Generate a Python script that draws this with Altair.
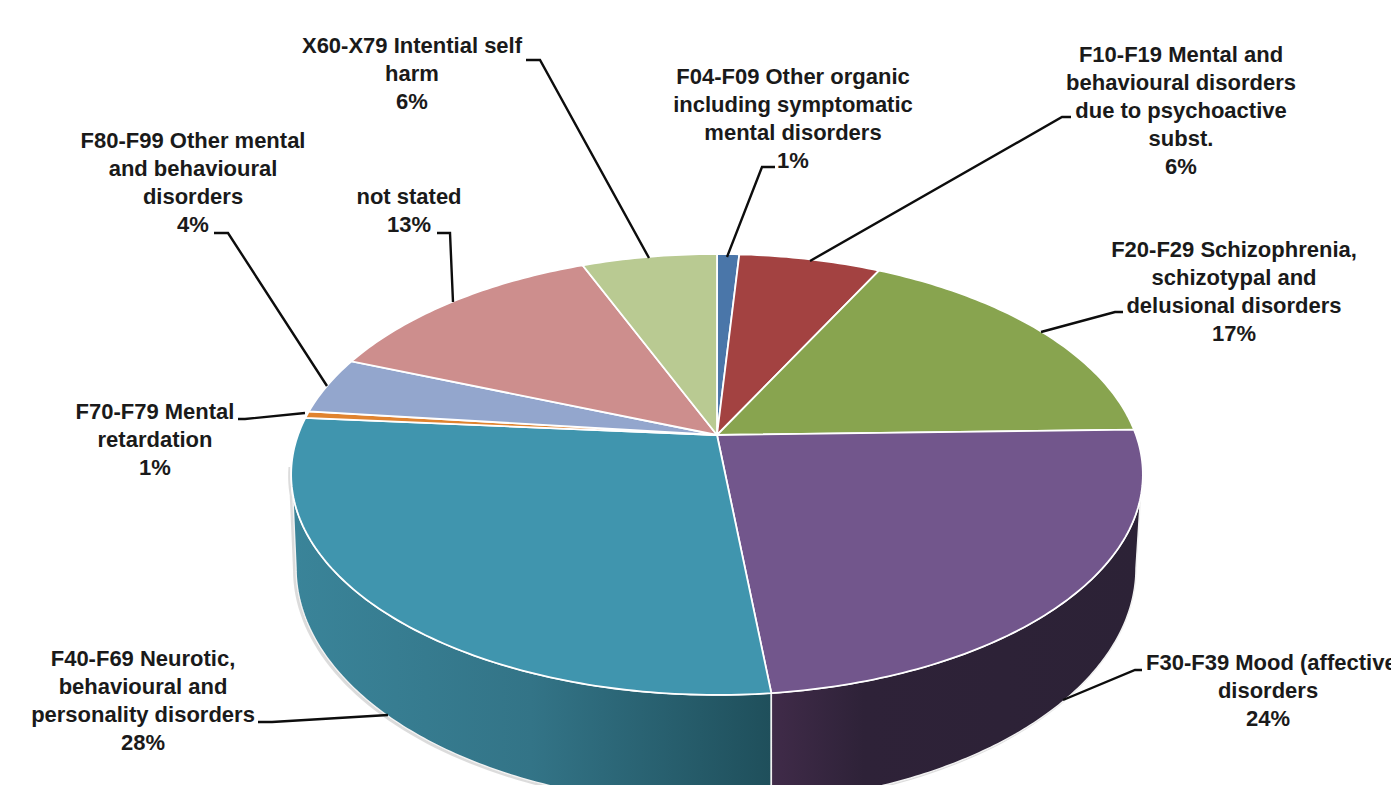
import numpy as np
import pandas as pd
import altair as alt

# ---- values (clockwise from 12 o'clock)
names = ["F04-F09", "F10-F19", "F20-F29", "F30-F39", "F40-F69", "F70-F79", "F80-F99", "not stated", "X60-X79"]
values = [1.0, 6.4, 17.2, 23.7, 28.0, 0.5, 4.2, 12.9, 6.1]
colors = ["#4a76a9", "#a34241", "#88a44f", "#72568c", "#4095ae", "#e0832f", "#93a6cd", "#cd8e8d", "#b9ca92"]

label_lines = [
    (["X60-X79 Intential self", "harm", "6%"], 412, 46),
    (["F04-F09 Other organic", "including symptomatic", "mental disorders", "1%"], 793, 77),
    (["F10-F19 Mental and", "behavioural disorders", "due to psychoactive", "subst.", "6%"], 1181, 55),
    (["F20-F29 Schizophrenia,", "schizotypal and", "delusional disorders", "17%"], 1234, 250),
    (["disorders", "24%"], 1268, 691),
    (["F40-F69 Neurotic,", "behavioural and", "personality disorders", "28%"], 143, 659),
    (["F70-F79 Mental", "retardation", "1%"], 155, 412),
    (["F80-F99 Other mental", "and behavioural", "disorders", "4%"], 193, 141),
    (["not stated", "13%"], 409, 197),
    (["F30-F39 Mood (affective)"], 1275, 663),
]
leaders = [
    [(649, 258), (540, 60), (526, 60)],
    [(727, 257), (762, 167), (775, 167)],
    [(810, 261), (1062, 117), (1071, 117)],
    [(1041, 332), (1115, 312), (1123, 312)],
    [(1063, 700), (1135, 670), (1142, 670)],
    [(388, 715), (272, 722), (258, 722)],
    [(305, 413), (245, 419), (238, 419)],
    [(327, 386), (228, 233), (214, 233)],
    [(453, 302), (450, 233), (437, 233)],
]

# ---- pie geometry (perspective disc)
CX, CY, S, R, K = 717.0, 435.0, 213.4, 419.0, 0.179
BCX, BCY, BRX, BRY = 716.0, 568.0, 420.0, 237.0
W, H = 1383, 777
xs = alt.Scale(domain=[8, 8 + W], nice=False, zero=False)
ys = alt.Scale(domain=[8 + H, 8], nice=False, zero=False)


def rim(t):
    x, d = np.sin(t), -np.cos(t)
    w = 1 - K * d
    return CX + R * x / w, CY + S * d / w


def poly(px, py, **mark):
    px, py = list(px) + [px[0]], list(py) + [py[0]]
    df = pd.DataFrame({"x": px, "y": py, "i": range(len(px))})
    return alt.Chart(df).mark_line(clip=True, **mark).encode(
        x=alt.X("x:Q", scale=xs, axis=None),
        y=alt.Y("y:Q", scale=ys, axis=None),
        order="i:Q",
    )


fr = np.cumsum([0] + values) / sum(values)
layers = []


def wall(t0, t1):
    ts = np.linspace(t0, t1, 120)
    rx, ry = rim(ts)
    ps0 = np.arccos(np.clip((rx[0] - BCX) / BRX, -1, 1))
    ps1 = np.arccos(np.clip((rx[-1] - BCX) / BRX, -1, 1))
    ps = np.linspace(ps1, ps0, 120)
    ex = BCX + BRX * np.cos(ps)
    ey = BCY + BRY * np.sin(ps)
    return list(rx) + list(ex), list(ry) + list(ey)


split = 2 * np.pi * fr[4]
tl = np.deg2rad(262.0)   # left end of the visible wall on the rim
tr = np.deg2rad(98.0)    # right end of the visible wall on the rim

# soft shadow under the wall
px, py = wall(tr, tl)
layers.append(poly([p - 2 for p in px], [p + 1.5 for p in py], fill="#999999", stroke="#aaaaaa", strokeWidth=2, opacity=0.4))

teal_grad = alt.LinearGradient(gradient="linear", x1=0, x2=1, y1=0, y2=0,
                               stops=[alt.GradientStop(offset=0, color="#3a8499"),
                                      alt.GradientStop(offset=0.5, color="#337487"),
                                      alt.GradientStop(offset=1, color="#1f4f5b")])
purple_grad = alt.LinearGradient(gradient="linear", x1=0, x2=1, y1=0, y2=0,
                                 stops=[alt.GradientStop(offset=0, color="#402b49"),
                                        alt.GradientStop(offset=0.25, color="#2e2238"),
                                        alt.GradientStop(offset=1, color="#2c2236")])
for t0, t1, g in [(split, tl, teal_grad), (tr, split, purple_grad)]:
    px, py = wall(t0, t1)
    layers.append(poly(px, py, fill=g, stroke="#f2f2f2", strokeWidth=1.5))

# top surface slices
for v0, v1, c in zip(fr[:-1], fr[1:], colors):
    ts = np.linspace(v0, v1, max(int((v1 - v0) * 400), 6)) * 2 * np.pi
    rx, ry = rim(ts)
    layers.append(poly([CX] + list(rx), [CY] + list(ry), fill=c, stroke="white", strokeWidth=1.8))

# leader lines
for pts in leaders:
    df = pd.DataFrame({"x": [p[0] for p in pts], "y": [p[1] for p in pts], "i": range(len(pts))})
    layers.append(alt.Chart(df).mark_line(color="#0d0d0d", strokeWidth=2.4, clip=True).encode(
        x=alt.X("x:Q", scale=xs, axis=None), y=alt.Y("y:Q", scale=ys, axis=None), order="i:Q"))

# labels
rows = []
for lines, x, y in label_lines:
    for n, t in enumerate(lines):
        rows.append({"x": x, "y": y + 28 * n, "t": t})
ldf = pd.DataFrame(rows)
layers.append(alt.Chart(ldf).mark_text(font="Liberation Sans", fontWeight="bold", fontSize=22,
                                       color="#1a1a1a", align="center", baseline="middle", clip=True).encode(
    x=alt.X("x:Q", scale=xs, axis=None), y=alt.Y("y:Q", scale=ys, axis=None), text="t:N"))

chart = alt.layer(*layers).properties(
    width=W, height=H, padding=0, autosize=alt.AutoSizeParams(type="none"),
    background="white").configure_view(stroke=None)
chart.save("out.html", embed_options={"renderer": "svg", "actions": False})
